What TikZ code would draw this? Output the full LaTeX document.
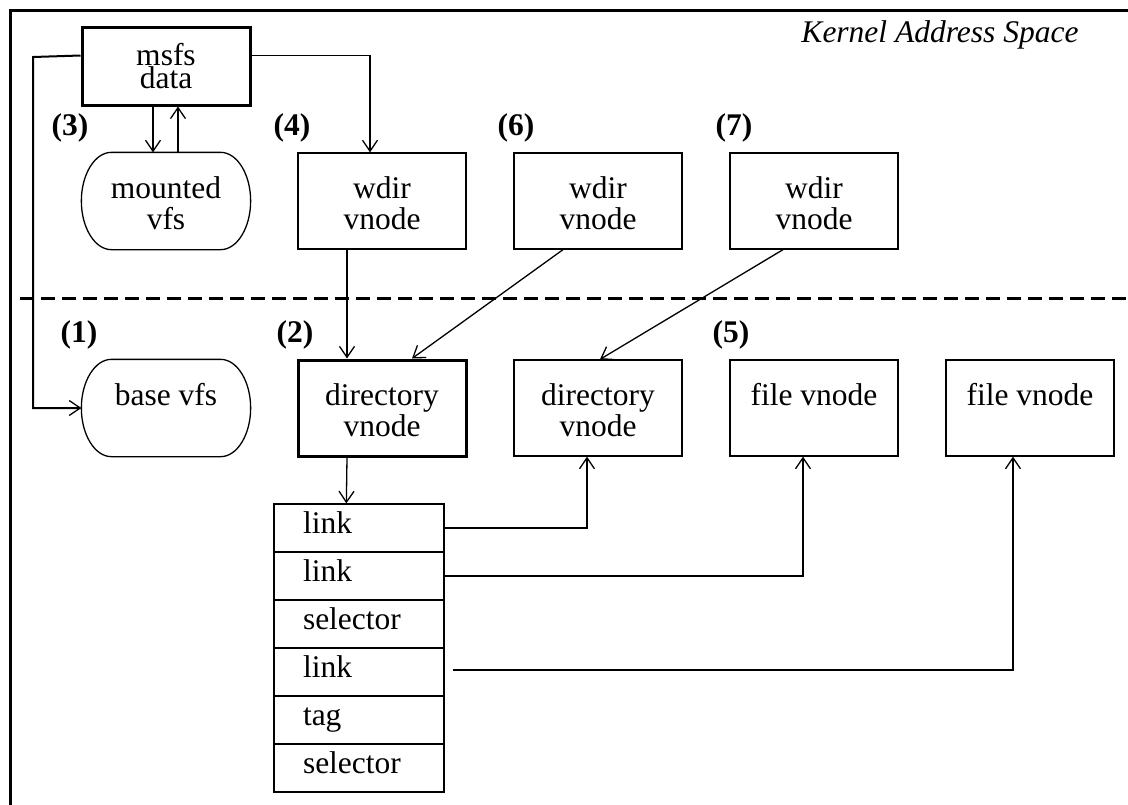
\documentclass[tikz,border=0pt]{standalone}
\usepackage{fontspec}
\setmainfont{Liberation Serif}
\usetikzlibrary{arrows.meta,calc}
\newcommand\pillshape[1]{%
  \draw[plain] ($(#1.north west)+(30,0)$) -- ($(#1.north east)+(-30,0)$)
    .. controls ($(#1.north east)+(-13.4,0)$) and ($(#1.east)+(0,-26.5)$) .. (#1.east)
    .. controls ($(#1.east)+(0,26.5)$) and ($(#1.south east)+(-13.4,0)$) .. ($(#1.south east)+(-30,0)$)
    -- ($(#1.south west)+(30,0)$)
    .. controls ($(#1.south west)+(13.4,0)$) and ($(#1.west)+(0,26.5)$) .. (#1.west)
    .. controls ($(#1.west)+(0,-26.5)$) and ($(#1.north west)+(13.4,0)$) .. cycle;}
\begin{document}
\begin{tikzpicture}[x=1pt,y=-1pt,
  every node/.style={font=\fontsize{31.5}{31}\selectfont},
  plain/.style={line width=1.3pt},
  box/.style={draw, line width=1.3pt, minimum width=168pt, minimum height=96pt, inner sep=0pt, align=center},
  thickbox/.style={box, line width=3pt},
  oneline/.style={text height=22pt, text depth=28pt},
  conn/.style={line width=1.3pt, -{Straight Barb[length=11pt,width=15pt,line width=1.3pt]}},
  num/.style={font=\fontsize{31.5}{31}\selectfont\bfseries},
  cell/.style={draw, line width=1.3pt, minimum width=170pt, minimum height=48pt, inner xsep=29pt, inner ysep=0pt, text width=112pt, align=left, text height=20pt, text depth=10pt},
]
\useasboundingbox (0,0) rectangle (1128,804);
\fill[white] (0,0) rectangle (1128,804);
% frame
\draw[line width=3pt] (10,10) rectangle (1140,816);
% kernel label
\node[font=\fontsize{31.5}{31}\selectfont\itshape, anchor=base] (kas) at (940,42) {Kernel Address Space};
% dashed separator
\coordinate (dl) at (20,298);
\coordinate (dr) at (1130,298);
\draw[line width=3pt, dash pattern=on 14pt off 7pt] (dl) -- (dr);

% upper nodes
\node[thickbox, minimum height=78pt] (ms) at (166,66) {msfs\\[-8pt]data};
\node[box, draw=none] (mv) at (166,201) {\rule{0pt}{27pt}mounted\\vfs};
\pillshape{mv}
\node[box] (w4) at (382,201) {\rule{0pt}{27pt}wdir\\vnode};
\node[box] (w6) at (598,201) {\rule{0pt}{27pt}wdir\\vnode};
\node[box] (w7) at (814,201) {\rule{0pt}{27pt}wdir\\vnode};

% lower nodes
\node[box, oneline, draw=none] (bv) at (166,408) {base vfs};
\pillshape{bv}
\node[thickbox] (d2) at (382,408) {\rule{0pt}{27pt}directory\\vnode};
\node[box] (dv) at (598,408) {\rule{0pt}{27pt}directory\\vnode};
\node[box, oneline] (f1) at (814,408) {file vnode};
\node[box, oneline] (f2) at (1030,408) {file vnode};

% numbers
\node[num] (n3) at (70,128) {(3)};
\node[num] (n4) at (292,128) {(4)};
\node[num] (n6) at (516,128) {(6)};
\node[num] (n7) at (734,128) {(7)};
\node[num] (n1) at (79,335) {(1)};
\node[num] (n2) at (295,335) {(2)};
\node[num] (n5) at (731,335) {(5)};

% table
\node[cell] (r1) at (359,528) {link};
\node[cell] (r2) at (359,576) {link};
\node[cell] (r3) at (359,624) {selector};
\node[cell] (r4) at (359,672) {link};
\node[cell] (r5) at (359,720) {tag};
\node[cell] (r6) at (359,768) {selector};

% connectors
\coordinate (lc) at (33,57);
\draw[conn, line width=2pt] ($(ms.north west)+(0,30)$) -- (lc) |- (bv.west);
\draw[conn] ($(ms.north east)+(0,30)$) -| ($(w4.north)+(-12,0)$);
\draw[conn] ($(ms.south)+(-13,0)$) -- ($(mv.north)+(-13,0)$);
\draw[conn] ($(mv.north)+(12,0)$) -- ($(ms.south)+(12,0)$);
\draw[conn] ($(w4.south)+(-35,0)$) -- ($(d2.north)+(-35,0)$);
\draw[conn] ($(w6.south)+(-35,0)$) -- ($(d2.north)+(30,0)$);
\draw[conn] ($(w7.south)+(-31,0)$) -- ($(dv.north)+(2,0)$);
\draw[conn] ($(d2.south)+(-35,0)$) -- ($(r1.north west)+(73,0)$);
\draw[conn] (r1.east) -| ($(dv.south)+(-11,0)$);
\draw[conn] (r2.east) -| ($(f1.south)+(-11,0)$);
\draw[conn] ($(r4.east)+(8,-2)$) -| ($(f2.south)+(-17,0)$);
\end{tikzpicture}
\end{document}
